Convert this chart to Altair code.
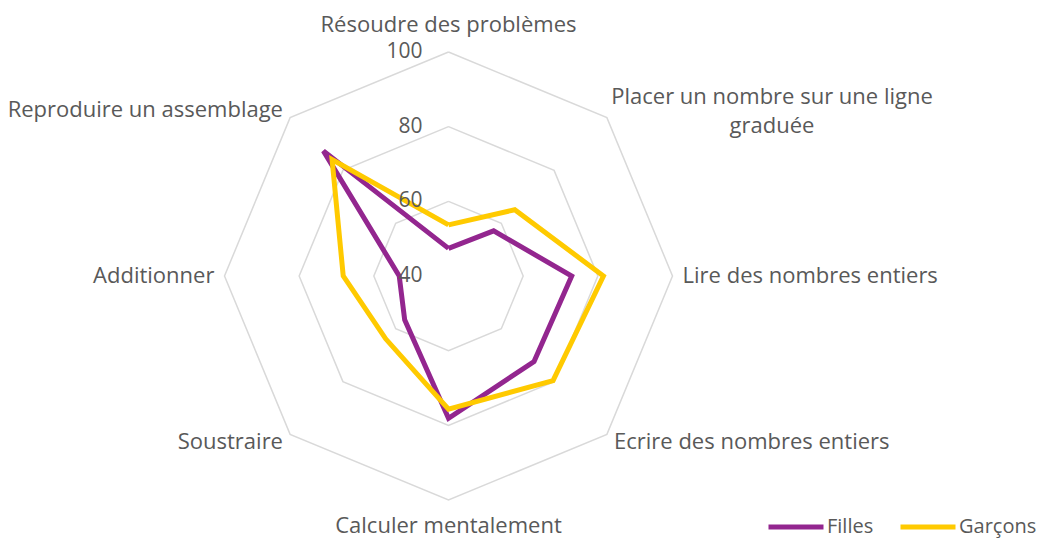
import altair as alt
import pandas as pd

categories = ["Résoudre des problèmes", "Placer un nombre sur une ligne\ngraduée",
              "Lire des nombres entiers", "Ecrire des nombres entiers",
              "Calculer mentalement", "Soustraire", "Additionner",
              "Reproduire un assemblage"]
filles = [47.4, 57.1, 73.0, 72.4, 78.1, 56.6, 53.2, 87.4]
garcons = [53.7, 65.1, 81.5, 79.6, 75.7, 63.8, 68.2, 84.1]
series_names = ["Filles", "Garçons"]
grid_levels = [60, 80, 100]
tick_labels = [100, 80, 60, 40]
vmin, vmax = 40, 100

N = len(categories)
rows = []
for name, vals in zip(series_names, [filles, garcons]):
    for i in range(N + 1):
        rows.append({"serie": name, "i": i % N, "ord": i, "v": vals[i % N]})
series_df = pd.DataFrame(rows)

grid_rows = []
for lv in grid_levels:
    for i in range(N + 1):
        grid_rows.append({"level": lv, "i": i % N, "ord": i, "v": lv})
grid_df = pd.DataFrame(grid_rows)

lab_df = pd.DataFrame({"label": categories, "i": list(range(N))})
tick_df = pd.DataFrame({"t": [str(t) for t in tick_labels], "v": tick_labels})

W, H = 1033, 530
R = 224.0
cx, cy = 440.5, 268.0
xdom = [-cx / R, (W - cx) / R]
ydom = [-(H - cy) / R, cy / R]

xs = alt.Scale(domain=xdom, nice=False, zero=False)
ys = alt.Scale(domain=ydom, nice=False, zero=False)
X = lambda f: alt.X(f, type="quantitative", scale=xs, axis=None)
Y = lambda f: alt.Y(f, type="quantitative", scale=ys, axis=None)


def with_xy(ch, rexpr):
    return ch.transform_calculate(
        ang=f"datum.i * 2 * PI / {N}",
        rr=rexpr,
    ).transform_calculate(
        px="datum.rr * sin(datum.ang)",
        py="datum.rr * cos(datum.ang)",
    )

rnorm = f"(datum.v - {vmin}) / ({vmax} - {vmin})"

grid = with_xy(alt.Chart(grid_df), rnorm).mark_line(
    color="#d9d9d9", strokeWidth=1.5
).encode(x=X("px:Q"), y=Y("py:Q"), detail="level:N", order="ord:Q")

lines = with_xy(alt.Chart(series_df), rnorm).mark_line(
    strokeWidth=5, strokeJoin="miter"
).encode(
    x=X("px:Q"), y=Y("py:Q"), order="ord:Q",
    color=alt.Color("serie:N",
                    scale=alt.Scale(domain=series_names, range=["#93268F", "#FFCA00"]),
                    legend=alt.Legend(
                        title=None, orient="none", direction="horizontal",
                        legendX=758, legendY=489, symbolType="stroke",
                        symbolSize=3025, symbolStrokeWidth=5,
                        labelFontSize=20, labelFont="Open Sans", labelColor="#595959",
                        labelOffset=1, columnPadding=16, gridAlign="none", padding=0)),
)

ticks = alt.Chart(tick_df).transform_calculate(
    py=rnorm, px="0"
).mark_text(align="right", baseline="middle", dx=-26, fontSize=21,
            font="Open Sans", color="#595959").encode(
    x=X("px:Q"), y=Y("py:Q"), text="t:N")

LR = 1.045
lab_base = with_xy(alt.Chart(lab_df), str(LR))
font = dict(font="Open Sans", fontSize=22, color="#595959", baseline="middle", lineBreak="\n", lineHeight=29)

lab_left = lab_base.transform_filter("datum.i == 2 || datum.i == 3").mark_text(align="left", **font).encode(
    x=X("px:Q"), y=Y("py:Q"), text="label:N")
lab_right = lab_base.transform_filter("datum.i >= 5").mark_text(align="right", **font).encode(
    x=X("px:Q"), y=Y("py:Q"), text="label:N")
lab_top = lab_base.transform_filter("datum.i == 0").mark_text(align="center", dy=-17, **font).encode(
    x=X("px:Q"), y=Y("py:Q"), text="label:N")
lab_bot = lab_base.transform_filter("datum.i == 4").mark_text(align="center", dy=16, **font).encode(
    x=X("px:Q"), y=Y("py:Q"), text="label:N")
lab_tr = lab_base.transform_filter("datum.i == 1").mark_text(align="center", dx=158, dy=-13, **font).encode(
    x=X("px:Q"), y=Y("py:Q"), text="label:N")

chart = alt.layer(grid, lines, ticks, lab_left, lab_right, lab_top, lab_bot, lab_tr).properties(
    width=W, height=H, padding=0, autosize=alt.AutoSizeParams(type="none")
).configure_view(stroke=None)

chart.save("out.html", embed_options={"renderer": "svg", "actions": False})
